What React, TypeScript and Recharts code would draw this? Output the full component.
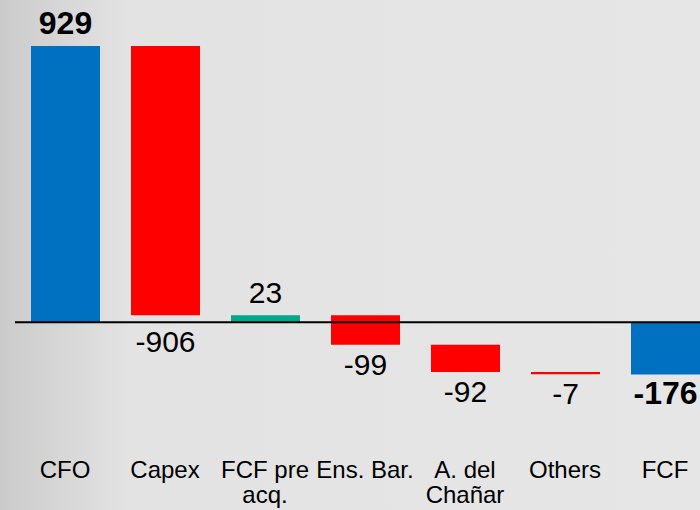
import React from "react";
import { BarChart, Bar, XAxis, YAxis, Cell, LabelList, ReferenceLine } from "recharts";

const categories = ["CFO", "Capex", "FCF pre acq.", "Ens. Bar.", "A. del Chañar", "Others", "FCF"];
const values = [929, -906, 23, -99, -92, -7, -176];
const kinds = ["total", "delta", "subtotal", "delta", "delta", "delta", "total"];

const FONT = "'Liberation Sans', Arial, sans-serif";
const BLUE = "#0070C0";
const RED = "#FF0000";
const GREEN = "#00A88C";

type Row = { name: string; value: number; kind: string; range: [number, number] };

const data: Row[] = (() => {
  let running = 0;
  return categories.map((name, i) => {
    const v = values[i];
    const kind = kinds[i];
    let range: [number, number];
    if (kind === "delta") {
      const start = running;
      const end = running + v;
      range = [Math.min(start, end), Math.max(start, end)];
      running = end;
    } else {
      range = [Math.min(0, v), Math.max(0, v)];
      running = v;
    }
    return { name, value: v, kind, range };
  });
})();

const colorFor = (r: Row) => {
  if (r.kind === "total") return BLUE;
  if (r.kind === "subtotal") return GREEN;
  return r.value < 0 ? RED : GREEN;
};

let canvasCtx: CanvasRenderingContext2D | null = null;
const measure = (text: string, font: string) => {
  if (!canvasCtx) {
    const c = document.createElement("canvas");
    canvasCtx = c.getContext("2d");
  }
  if (!canvasCtx) return text.length * 12;
  canvasCtx.font = font;
  return canvasCtx.measureText(text).width;
};

const wrap = (text: string, maxW: number, font: string) => {
  const words = text.split(" ");
  const lines: string[] = [];
  let cur = "";
  words.forEach((w) => {
    const test = cur ? cur + " " + w : w;
    if (cur && measure(test, font) > maxW) {
      lines.push(cur);
      cur = w;
    } else {
      cur = test;
    }
  });
  if (cur) lines.push(cur);
  return lines;
};

const CategoryTick = (props: any) => {
  const { x, y, payload } = props;
  const font = `24px ${FONT}`;
  const lines = wrap(String(payload.value), 100, "24px 'Liberation Sans'");
  return (
    <text x={x} y={y + 37} textAnchor="middle" fill="#000" style={{ font }}>
      {lines.map((l, i) => (
        <tspan key={i} x={x} dy={i === 0 ? 0 : 25}>
          {l}
        </tspan>
      ))}
    </text>
  );
};

const ValueLabel = (props: any) => {
  const { x, y, width, height, index } = props;
  const d = data[index];
  if (!d) return null;
  const top = Math.min(y, y + height);
  const bottom = Math.max(y, y + height);
  const bold = d.kind === "total";
  const size = bold ? 32 : 30;
  let ty: number;
  if (d.value >= 0) {
    ty = top - 12;
  } else {
    let anchor = bottom;
    if (d.range[0] > 0) {
      const ppu = (bottom - top) / (d.range[1] - d.range[0]);
      anchor = Math.max(bottom, top + d.range[1] * ppu);
    }
    ty = anchor + 30;
  }
  return (
    <text
      x={x + width / 2}
      y={ty}
      textAnchor="middle"
      fill="#000"
      style={{ fontFamily: FONT, fontSize: size, fontWeight: bold ? 700 : 400 }}
    >
      {String(d.value)}
    </text>
  );
};

export default function App() {
  return (
    <div
      style={{
        position: "absolute",
        left: 0,
        top: 0,
        width: 700,
        height: 510,
        overflow: "hidden",
        background: "linear-gradient(to right, #cbcbcb 0px, #e3e3e3 130px, #e6e6e6 100%)",
      }}
    >
      <BarChart
        width={715}
        height={510}
        data={data}
        margin={{ top: 25, right: 0, bottom: 0, left: 15 }}
        style={{ fontFamily: FONT }}
      >
        <XAxis
          dataKey="name"
          axisLine={false}
          tickLine={false}
          tickSize={0}
          tickMargin={0}
          height={69}
          interval={0}
          tick={<CategoryTick />}
        />
        <YAxis hide domain={[-400, 1000]} type="number" allowDataOverflow />
        <Bar dataKey="range" barSize={69} isAnimationActive={false}>
          {data.map((r, i) => (
            <Cell key={i} fill={colorFor(r)} />
          ))}
          <LabelList dataKey="range" content={<ValueLabel />} />
        </Bar>
        <ReferenceLine y={0} stroke="#000" strokeWidth={2} />
      </BarChart>
    </div>
  );
}
